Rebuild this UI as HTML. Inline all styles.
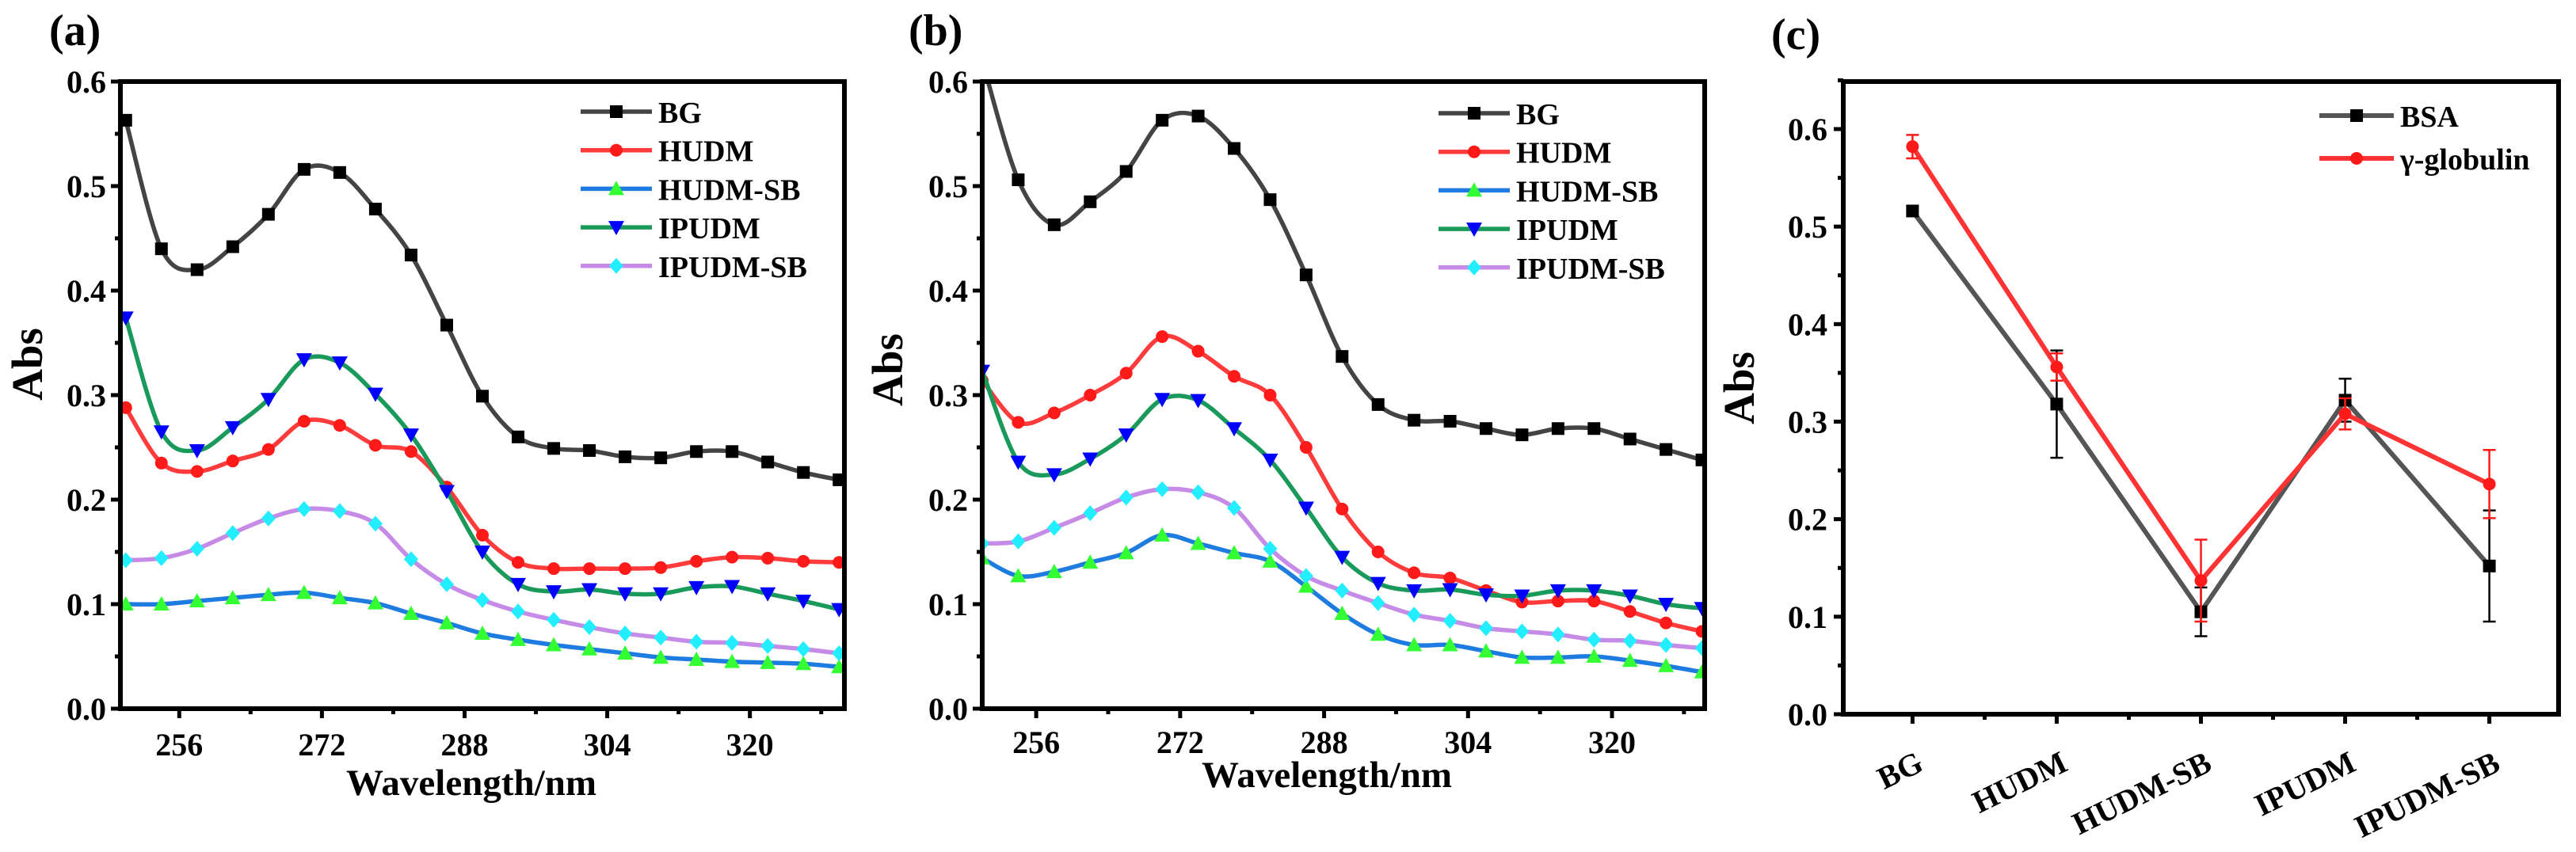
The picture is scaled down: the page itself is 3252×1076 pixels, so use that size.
<!DOCTYPE html>
<html><head><meta charset="utf-8"><style>
html,body{margin:0;padding:0;background:#fff;}
svg{display:block;font-family:"Liberation Serif",serif;font-weight:bold;}
</style></head><body>
<svg id="fig" width="3252" height="1076" viewBox="0 0 3252 1076" xmlns="http://www.w3.org/2000/svg"></svg>
<script>
// ---- data ----
const wavelengths = [250,254,258,262,266,270,274,278,282,286,290,294,298,302,306,310,314,318,322,326,330];
const seriesNames = ["BG","HUDM","HUDM-SB","IPUDM","IPUDM-SB"];
const aBG      = [0.563,0.440,0.420,0.442,0.473,0.516,0.513,0.478,0.434,0.367,0.299,0.260,0.249,0.247,0.241,0.240,0.246,0.246,0.236,0.226,0.219];
const aHUDM    = [0.288,0.235,0.227,0.237,0.248,0.275,0.271,0.252,0.246,0.212,0.166,0.140,0.134,0.134,0.134,0.135,0.141,0.145,0.144,0.141,0.140];
const aHUDMSB  = [0.100,0.100,0.103,0.106,0.109,0.111,0.106,0.101,0.091,0.082,0.072,0.066,0.061,0.057,0.053,0.049,0.047,0.045,0.044,0.043,0.040];
const aIPUDM   = [0.374,0.265,0.247,0.269,0.296,0.334,0.331,0.301,0.262,0.208,0.150,0.119,0.112,0.114,0.110,0.110,0.116,0.117,0.110,0.103,0.095];
const aIPUDMSB = [0.142,0.144,0.153,0.168,0.182,0.191,0.189,0.177,0.143,0.119,0.104,0.093,0.085,0.078,0.072,0.068,0.064,0.063,0.060,0.057,0.053];
const bBG      = [0.620,0.506,0.463,0.485,0.514,0.563,0.567,0.536,0.487,0.415,0.337,0.291,0.276,0.275,0.268,0.262,0.268,0.268,0.258,0.248,0.238];
const bHUDM    = [0.314,0.274,0.283,0.300,0.321,0.356,0.342,0.318,0.300,0.250,0.191,0.150,0.130,0.125,0.113,0.102,0.103,0.103,0.093,0.082,0.074];
const bHUDMSB  = [0.144,0.127,0.131,0.140,0.149,0.166,0.158,0.149,0.141,0.117,0.091,0.071,0.061,0.061,0.055,0.049,0.049,0.050,0.046,0.041,0.035];
const bIPUDM   = [0.323,0.236,0.224,0.239,0.262,0.296,0.295,0.268,0.238,0.192,0.145,0.120,0.113,0.114,0.109,0.108,0.113,0.113,0.108,0.100,0.096];
const bIPUDMSB = [0.158,0.160,0.173,0.187,0.202,0.210,0.207,0.192,0.153,0.127,0.113,0.101,0.090,0.084,0.077,0.074,0.071,0.066,0.065,0.061,0.058];
const xTicks = [256,272,288,304,320];
const yTicksAB = [0,0.1,0.2,0.3,0.4,0.5,0.6];
const cCategories = ["BG","HUDM","HUDM-SB","IPUDM","IPUDM-SB"];
const cBSA = [0.516,0.318,0.105,0.322,0.152];
const cBSAerr = [0.005,0.055,0.025,0.022,0.057];
const cGlob = [0.582,0.356,0.137,0.308,0.236];
const cGlobErr = [0.012,0.014,0.042,0.016,0.035];
const yTicksC = [0,0.1,0.2,0.3,0.4,0.5,0.6];

const NS="http://www.w3.org/2000/svg";
const svg=document.getElementById('fig');
function mk(tag,attrs,parent){const e=document.createElementNS(NS,tag);for(const k in attrs)e.setAttribute(k,attrs[k]);(parent||svg).appendChild(e);return e;}
function txt(s,attrs,parent){const e=mk('text',attrs,parent);e.textContent=s;return e;}

const styles=[
 {line:"#444444",fill:"#000000",shape:"square"},
 {line:"#ff3b3b",fill:"#ff1a1a",shape:"circle"},
 {line:"#1e7be0",fill:"#33ff33",shape:"tri"},
 {line:"#1a9a5a",fill:"#0000ff",shape:"tridown"},
 {line:"#c58be6",fill:"#22eeff",shape:"diamond"}
];
function marker(shape,x,y,fill,parent){
  const s=8;
  if(shape==="square") return mk('rect',{x:x-s,y:y-s,width:2*s,height:2*s,fill:fill},parent);
  if(shape==="circle") return mk('circle',{cx:x,cy:y,r:8,fill:fill},parent);
  if(shape==="tri") return mk('polygon',{points:`${x},${y-10} ${x+10},${y+8} ${x-10},${y+8}`,fill:fill},parent);
  if(shape==="tridown") return mk('polygon',{points:`${x-10},${y-8} ${x+10},${y-8} ${x},${y+10}`,fill:fill},parent);
  return mk('polygon',{points:`${x},${y-10} ${x+9},${y} ${x},${y+10} ${x-9},${y}`,fill:fill},parent);
}
function smooth(pts){
  let d=`M${pts[0][0]},${pts[0][1]}`;
  for(let i=0;i<pts.length-1;i++){
    const p0=pts[Math.max(0,i-1)],p1=pts[i],p2=pts[i+1],p3=pts[Math.min(pts.length-1,i+2)];
    const c1x=p1[0]+(p2[0]-p0[0])/6,c1y=p1[1]+(p2[1]-p0[1])/6;
    const c2x=p2[0]-(p3[0]-p1[0])/6,c2y=p2[1]-(p3[1]-p1[1])/6;
    d+=` C${c1x},${c1y} ${c2x},${c2y} ${p2[0]},${p2[1]}`;
  }
  return d;
}

function spectrumPanel(cfg){
  const {L,R,T,B,x0,x1,id,data,legX,legY,label,labelX,absX,absY,titleX,titleY,tickY}=cfg;
  const g=mk('g',{});
  
  
  const xs=v=>L+(v-x0)/(x1-x0)*(R-L);
  const ys=v=>B-(v/0.6)*(B-T);
  mk('clipPath',{id:'clip'+id},g);
  mk('rect',{x:L,y:T,width:R-L,height:B-T},svg.lastChild.lastChild);
  const plot=mk('g',{'clip-path':`url(#clip${id})`},g);
  
  
  data.forEach((arr,si)=>{
    const st=styles[si];
    const pts=wavelengths.map((w,i)=>[xs(w),ys(arr[i])]);
    const p=mk('path',{d:smooth(pts),fill:'none',stroke:st.line,'stroke-width':5.5,'stroke-linejoin':'round'},plot);
    
    
    pts.forEach(pt=>{const m=marker(st.shape,pt[0],pt[1],st.fill,plot);
      
      });
  });
  // frame
  const fr=mk('rect',{x:L,y:T,width:R-L,height:B-T,fill:'none',stroke:'#000','stroke-width':6},g);
  
  
  // y ticks
  for(let v=0;v<=0.6001;v+=0.05){
    const major=Math.abs(v*10-Math.round(v*10))<1e-6;
    mk('line',{x1:L,x2:L-(major?12:7),y1:ys(v),y2:ys(v),stroke:'#000','stroke-width':5},g);
  }
  yTicksAB.forEach(v=>{const t=txt(v.toFixed(1),{x:L-18,y:ys(v)+14,'text-anchor':'end','font-size':40},g);
    });
  for(let w=248;w<=330;w+=8){ if(w<x0||w>x1) continue;
    const major=xTicks.includes(w);
    mk('line',{x1:xs(w),x2:xs(w),y1:B,y2:B+(major?12:7),stroke:'#000','stroke-width':5},g);}
  xTicks.forEach(w=>{const t=txt(String(w),{x:xs(w),y:tickY+14,'text-anchor':'middle','font-size':40},g);
    });
  const xt=txt('Wavelength/nm',{x:titleX,y:titleY+16,'text-anchor':'middle','font-size':47},g);
  
  const yt=txt('Abs',{x:0,y:0,'text-anchor':'middle','font-size':55,transform:`translate(${absX+18},${absY}) rotate(-90)`},g);
  
  const pl=txt(label,{x:labelX,y:57,'font-size':56},g);
  
  // legend
  const lg=mk('g',{},g);
  
  seriesNames.forEach((n,i)=>{
    const y=legY+i*48.7;
    const e=mk('g',{},lg);
    
    mk('line',{x1:legX,x2:legX+90,y1:y,y2:y,stroke:styles[i].line,'stroke-width':5.5},e);
    marker(styles[i].shape,legX+45,y,styles[i].fill,e);
    txt(n,{x:legX+98,y:y+14,'font-size':38},e);
  });
}

spectrumPanel({id:'a',L:152,R:1066,T:103,B:895,x0:249.4,x1:330.6,data:[aBG,aHUDM,aHUDMSB,aIPUDM,aIPUDMSB],
  legX:733,legY:141,label:'(a)',labelX:62,absX:35,absY:460,titleX:595,titleY:988,tickY:940});
spectrumPanel({id:'b',L:1240,R:2152,T:103,B:895,x0:250,x1:330.3,data:[bBG,bHUDM,bHUDMSB,bIPUDM,bIPUDMSB],
  legX:1816,legY:143,label:'(b)',labelX:1147,absX:1121,absY:467,titleX:1675,titleY:978,tickY:937});

// ---- panel c ----
(function(){
  const L=2327,R=3230,T=103,B=902;
  const g=mk('g',{});
  
  const xs=i=>L+(i+0.48)/4.96*(R-L);
  const ys=v=>B-v/0.6*(B-163);
  const series=[[cBSA,cBSAerr,"#555555","#000000","square","bsa"],[cGlob,cGlobErr,"#ff3333","#ff1a1a","circle","gamma-globulin"]];
  series.forEach(([vals,errs,lc,mc,sh,nm])=>{
    const d=vals.map((v,i)=>(i?'L':'M')+xs(i)+','+ys(v)).join(' ');
    const p=mk('path',{d:d,fill:'none',stroke:lc,'stroke-width':6},g);
    
    vals.forEach((v,i)=>{
      const x=xs(i),e=errs[i],ec=(nm==='bsa')?'#000':'#ff1a1a';
      const eb=mk('g',{},g);
      
      mk('line',{x1:x,x2:x,y1:ys(v-e),y2:ys(v+e),stroke:ec,'stroke-width':2.5},eb);
      mk('line',{x1:x-8,x2:x+8,y1:ys(v-e),y2:ys(v-e),stroke:ec,'stroke-width':2.5},eb);
      mk('line',{x1:x-8,x2:x+8,y1:ys(v+e),y2:ys(v+e),stroke:ec,'stroke-width':2.5},eb);
      const m=marker(sh,x,ys(v),mc,g);
      
    });
  });
  const fr=mk('rect',{x:L,y:T,width:R-L,height:B-T,fill:'none',stroke:'#000','stroke-width':6},g);
  
  for(let v=0;v<=0.6501;v+=0.05){
    const major=Math.abs(v*10-Math.round(v*10))<1e-6;
    mk('line',{x1:L,x2:L-(major?12:7),y1:ys(v),y2:ys(v),stroke:'#000','stroke-width':5},g);
  }
  yTicksC.forEach(v=>{const t=txt(v.toFixed(1),{x:L-20,y:ys(v)+14,'text-anchor':'end','font-size':40},g);
    });
  for(let i=-0.5;i<=4.5;i+=0.5){const x=xs(i); if(x<L||x>R) continue;
    const major=Number.isInteger(i);
    mk('line',{x1:x,x2:x,y1:B,y2:B+(major?12:7),stroke:'#000','stroke-width':5},g);}
  cCategories.forEach((c,i)=>{const x=xs(i)+16;
    const t=txt(c,{x:0,y:0,'text-anchor':'end','font-size':40,transform:`translate(${x},${972}) rotate(-26)`},g);
    });
  const yt=txt('Abs',{x:0,y:0,'text-anchor':'middle','font-size':55,transform:`translate(2214,490) rotate(-90)`},g);
  
  const pl=txt('(c)',{x:2236,y:62,'font-size':56},g);
  
  const lg=mk('g',{},g);
  
  [["BSA","#555555","#000000","square",146],["γ-globulin","#ff3333","#ff1a1a","circle",200]].forEach(([n,lc,mc,sh,y])=>{
    const e=mk('g',{},lg);
    
    mk('line',{x1:2928,x2:3022,y1:y,y2:y,stroke:lc,'stroke-width':6},e);
    marker(sh,2975,y,mc,e);
    txt(n,{x:3030,y:y+14,'font-size':38},e);
  });
})();
</script>
</body></html>
